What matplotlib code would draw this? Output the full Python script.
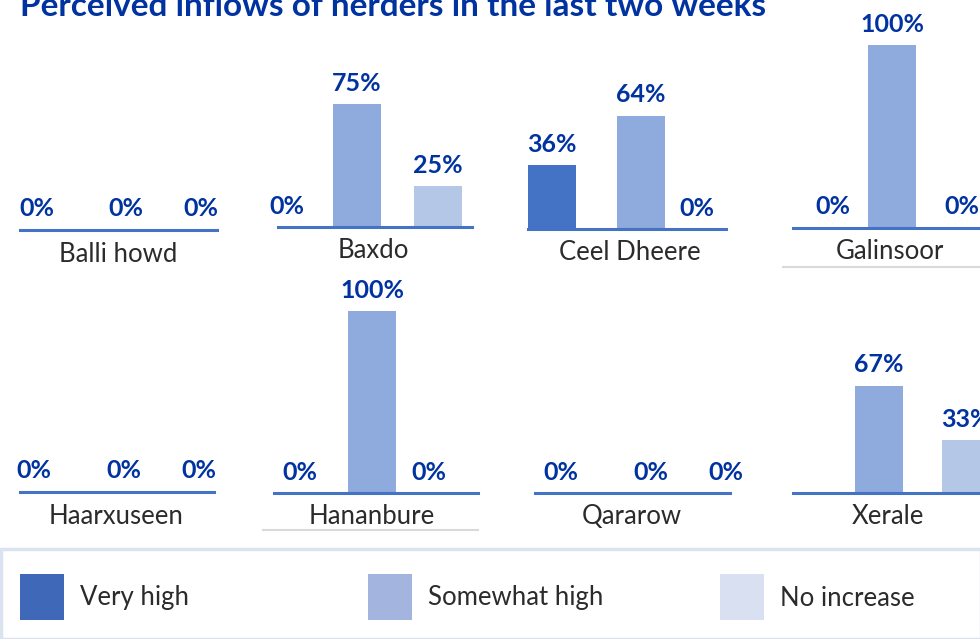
import matplotlib
matplotlib.use("Agg")
import matplotlib.pyplot as plt
from matplotlib.patches import Rectangle
from matplotlib.lines import Line2D
import numpy as np

plt.rcParams['font.family'] = ['Lato', 'DejaVu Sans']

title = "Perceived inflows of herders in the last two weeks"
categories = ["Very high", "Somewhat high", "No increase"]
districts = ["Balli howd", "Baxdo", "Ceel Dheere", "Galinsoor",
             "Haarxuseen", "Hananbure", "Qararow", "Xerale"]
very_high = [0, 0, 36, 0, 0, 0, 0, np.nan]
somewhat_high = [0, 75, 64, 100, 0, 100, 0, 67]
no_increase = [0, 25, 0, 0, 0, 0, 0, 33]

bar_colors = ["#4472C4", "#8FAADC", "#B4C7E7"]
legend_colors = ["#4068B8", "#A3B5DE", "#D9E0F2"]
label_color = "#0033A0"
W, H = 980, 639

# layout in pixels: baseline left, right, y, category centres, px per %, name x
layout = [
    (20, 217, 230, [37, 126, 201], 1.75, 118),
    (278, 472, 227, [287, 357, 438], 1.64, 373),
    (528, 726, 229, [552, 641, 697], 1.77, 630),
    (793, 980, 228, [833, 892, 962], 1.83, 890),
    (20, 214, 492, [34, 124, 199], 1.75, 116),
    (274, 478, 493, [300, 372, 429], 1.82, 372),
    (535, 730, 493, [561, 651, 726], 1.75, 632),
    (793, 980, 493, [820, 879, 966], 1.6, 888),
]
underline = {3: (783, 980, 267), 5: (263, 478, 530)}

fig = plt.figure(figsize=(W / 100, H / 100), dpi=100)

def fx(x):
    return x / W

def fy(y):
    return 1 - y / H

fig.text(fx(20), fy(6), title, fontsize=24, fontweight='bold', color=label_color,
         va='center', ha='left')

series = [very_high, somewhat_high, no_increase]
for i, name in enumerate(districts):
    left, right, base, centres, scale, name_x = layout[i]
    hpx = 100 * scale
    ax = fig.add_axes([fx(left), fy(base), (right - left) / W, hpx / H])
    ax.set_xlim(left, right)
    ax.set_ylim(0, 100)
    ax.axis('off')
    for j in range(3):
        v = series[j][i]
        if np.isnan(v):
            continue
        if v > 0:
            ax.bar(centres[j], v, width=48, color=bar_colors[j], zorder=2, clip_on=False)
        ax.text(centres[j], v + 21 / scale, f"{v:.0f}%", ha='center', va='center',
                fontsize=18, fontweight='bold', color=label_color, clip_on=False)
    ax.add_line(Line2D([left, right], [0, 0], color="#4472C4", lw=2.2, zorder=3,
                       clip_on=False))
    ax.set_xlim(left, right)
    fig.text(fx(name_x), fy(base + 24), name, ha='center', va='center', fontsize=18.5,
             color="#2b2b2b")
    if i in underline:
        x0, x1, yy = underline[i]
        fig.add_artist(Line2D([fx(x0), fx(x1)], [fy(yy), fy(yy)], color="#D9D9D9", lw=1.5))

# legend box
fig.add_artist(Rectangle((fx(1), 0), 1, fy(549), facecolor='white', edgecolor="#DCE3F0",
                         lw=2.5, transform=fig.transFigure))
legend_x = [20, 368, 720]
for k, cat in enumerate(categories):
    x0 = legend_x[k]
    fig.add_artist(Rectangle((fx(x0), fy(620)), 44 / W, 46 / H, facecolor=legend_colors[k],
                             edgecolor='none', transform=fig.transFigure))
    fig.text(fx(x0 + 60), fy(598), cat, ha='left', va='center', fontsize=18.5,
             color="#2b2b2b")

fig.savefig("out.png", dpi=100)
